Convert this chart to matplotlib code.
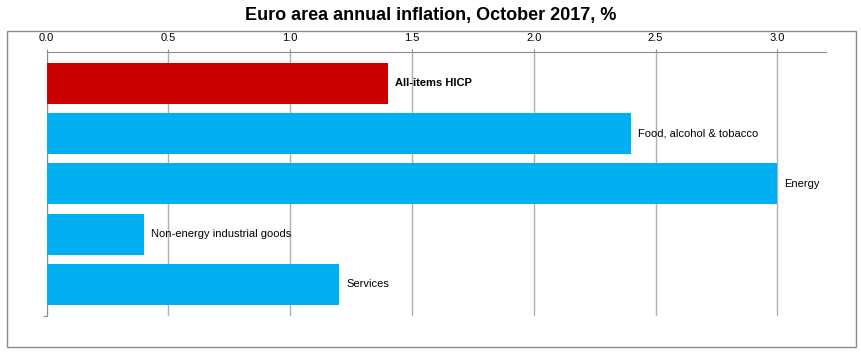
import matplotlib
matplotlib.use('Agg')
import matplotlib.pyplot as plt
from matplotlib.patches import Rectangle

plt.rcParams['font.family'] = ['Liberation Sans', 'DejaVu Sans']

# data
categories = ['All-items HICP', 'Food, alcohol & tobacco', 'Energy',
              'Non-energy industrial goods', 'Services']
values = [1.4, 2.4, 3.0, 0.4, 1.2]
colors = ['#CC0000', '#00B0F0', '#00B0F0', '#00B0F0', '#00B0F0']
xticks = [0.0, 0.5, 1.0, 1.5, 2.0, 2.5, 3.0]

W, H = 862, 356
fig = plt.figure(figsize=(W / 100, H / 100), dpi=100)

# outer frame
fig.patches.append(Rectangle((7 / W, (H - 346.7) / H), (855.7 - 7) / W, (346.7 - 30.7) / H,
                             transform=fig.transFigure, fill=False,
                             edgecolor='#8c8c8c', linewidth=1.0))

fig.text(431 / W, 1 - 15.5 / H, 'Euro area annual inflation, October 2017, %',
         ha='center', va='center', fontsize=13, fontweight='bold')

ax = fig.add_axes([46.7 / W, (H - 316) / H, (826 - 46.7) / W, (316 - 51.7) / H])

pos = range(len(categories))
ax.barh(pos, values, height=0.815, color=colors, zorder=3)

for i, (cat, v) in enumerate(zip(categories, values)):
    ax.text(v + 0.03, i, cat, va='center', ha='left', fontsize=8,
            fontweight='bold' if i == 0 else 'normal', zorder=4)

ax.set_xlim(0, 3.2)
ax.set_ylim(4.63, -0.63)
ax.xaxis.tick_top()
ax.set_xticks(xticks)
ax.set_xticklabels(['{:.1f}'.format(t) for t in xticks])
ax.tick_params(axis='x', length=2.5, width=0.8, color='#8c8c8c', labelsize=8, pad=4)
ax.set_yticks([4.63])
ax.set_yticklabels([''])
ax.tick_params(axis='y', length=3, width=0.8, color='#8c8c8c')
ax.grid(axis='x', color='#b0b0b0', linewidth=1.0, zorder=0)

for s in ['right', 'bottom']:
    ax.spines[s].set_visible(False)
for s in ['top', 'left']:
    ax.spines[s].set_color('#8c8c8c')
    ax.spines[s].set_linewidth(0.8)

fig.savefig('out.png', dpi=100)
